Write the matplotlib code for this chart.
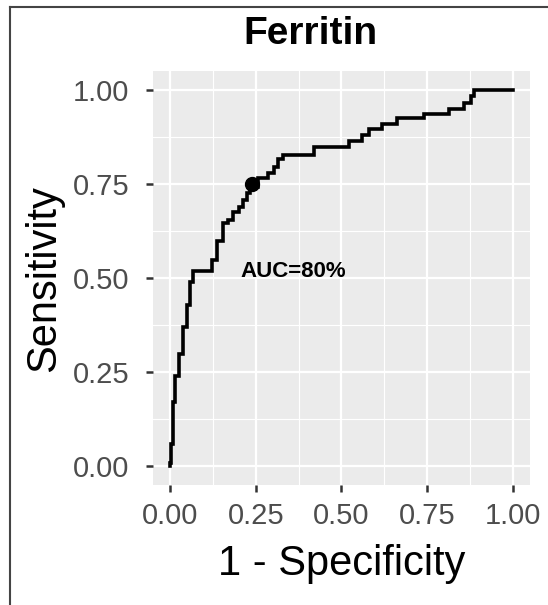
import matplotlib
matplotlib.use("Agg")
import matplotlib.pyplot as plt
from matplotlib.lines import Line2D
import numpy as np

# ROC staircase corners (top of each vertical rise)
fpr = [0.0, 0.0, 0.003, 0.010, 0.015, 0.025, 0.037, 0.049, 0.058, 0.068,
       0.122, 0.137, 0.156, 0.170, 0.184, 0.200, 0.214, 0.224, 0.234,
       0.258, 0.287, 0.302, 0.316, 0.331, 0.419, 0.522, 0.560, 0.580,
       0.619, 0.663, 0.741, 0.814, 0.858, 0.877, 0.887, 1.0]
tpr = [0.0, 0.01, 0.06, 0.17, 0.24, 0.30, 0.37, 0.43, 0.49, 0.52,
       0.548, 0.60, 0.647, 0.655, 0.677, 0.69, 0.709, 0.726, 0.744,
       0.767, 0.78, 0.797, 0.816, 0.829, 0.848, 0.865, 0.882, 0.896,
       0.909, 0.927, 0.936, 0.951, 0.967, 0.985, 1.0, 1.0]

cutoff_fpr = [0.24]
cutoff_tpr = [0.75]

ticks = [0.0, 0.25, 0.5, 0.75, 1.0]
tick_labels = ["0.00", "0.25", "0.50", "0.75", "1.00"]
title = "Ferritin"
auc_label = "AUC=80%"

plt.rcParams['font.family'] = ['Liberation Sans', 'DejaVu Sans']

fig = plt.figure(figsize=(5.48, 6.05), dpi=100)
ax = fig.add_axes([0.279, 0.198, 0.688, 0.684])
ax.set_facecolor("#EBEBEB")

ax.step(fpr, tpr, where="post", color="black", lw=2.6, solid_joinstyle="miter")
ax.plot(cutoff_fpr, cutoff_tpr, "o", color="black", ms=10)
ax.text(0.36, 0.517, auc_label, fontsize=16, fontweight="bold", ha="center", va="center")

ax.set_xlim(-0.05, 1.05)
ax.set_ylim(-0.05, 1.05)
ax.set_xticks(ticks)
ax.set_xticklabels(tick_labels)
ax.set_yticks(ticks)
ax.set_yticklabels(tick_labels)
ax.set_xticks([0.125, 0.375, 0.625, 0.875], minor=True)
ax.set_yticks([0.125, 0.375, 0.625, 0.875], minor=True)
ax.grid(which="major", color="white", lw=1.6)
ax.grid(which="minor", color="white", lw=0.8)
ax.set_axisbelow(True)
for s in ax.spines.values():
    s.set_visible(False)
ax.tick_params(which="major", length=5, width=1.8, color="#333333",
               labelsize=21, labelcolor="#4D4D4D")
ax.tick_params(axis="x", which="major", pad=7)
ax.tick_params(axis="y", which="major", pad=12)
ax.tick_params(which="minor", length=0)

ax.set_xlabel("1 - Specificity", fontsize=30, labelpad=10)
ax.set_ylabel("Sensitivity", fontsize=30, labelpad=6)
fig.text(0.566, 0.928, title, fontsize=28, fontweight="bold", ha="center", va="baseline")

# frame of the screenshot (left and top edges)
fig.add_artist(Line2D([0.018, 0.018], [0.0, 0.988], color="#444444", lw=1.5))
fig.add_artist(Line2D([0.018, 1.0], [0.988, 0.988], color="#444444", lw=1.5))

fig.savefig("out.png", dpi=100)
